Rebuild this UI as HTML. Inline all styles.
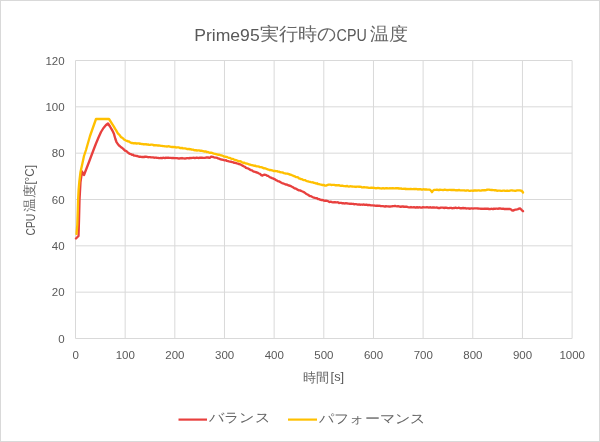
<!DOCTYPE html>
<html><head><meta charset="utf-8"><style>
html,body{margin:0;padding:0;background:#fff;}
#w{position:absolute;left:0;top:0;width:600px;height:442px;will-change:transform;}
svg{display:block;font-family:"Liberation Sans",sans-serif;}
</style></head><body><div id="w">
<svg width="600" height="442" viewBox="0 0 600 442">
<rect x="0.5" y="0.5" width="599" height="441" fill="#fff" stroke="#d9d9d9" stroke-width="1"/>
<g stroke="#d9d9d9" stroke-width="1" fill="none"><line x1="75.50" y1="60.5" x2="75.50" y2="338.5"/><line x1="125.16" y1="60.5" x2="125.16" y2="338.5"/><line x1="174.82" y1="60.5" x2="174.82" y2="338.5"/><line x1="224.48" y1="60.5" x2="224.48" y2="338.5"/><line x1="274.14" y1="60.5" x2="274.14" y2="338.5"/><line x1="323.80" y1="60.5" x2="323.80" y2="338.5"/><line x1="373.46" y1="60.5" x2="373.46" y2="338.5"/><line x1="423.12" y1="60.5" x2="423.12" y2="338.5"/><line x1="472.78" y1="60.5" x2="472.78" y2="338.5"/><line x1="522.44" y1="60.5" x2="522.44" y2="338.5"/><line x1="572.10" y1="60.5" x2="572.10" y2="338.5"/><line x1="75.5" y1="60.50" x2="572.1" y2="60.50"/><line x1="75.5" y1="106.83" x2="572.1" y2="106.83"/><line x1="75.5" y1="153.17" x2="572.1" y2="153.17"/><line x1="75.5" y1="199.50" x2="572.1" y2="199.50"/><line x1="75.5" y1="245.83" x2="572.1" y2="245.83"/><line x1="75.5" y1="292.17" x2="572.1" y2="292.17"/><line x1="75.5" y1="338.50" x2="572.1" y2="338.50"/></g>
<g fill="#595959" font-size="11.5px"><text x="64.6" y="64.60" text-anchor="end">120</text><text x="64.6" y="110.93" text-anchor="end">100</text><text x="64.6" y="157.27" text-anchor="end">80</text><text x="64.6" y="203.60" text-anchor="end">60</text><text x="64.6" y="249.93" text-anchor="end">40</text><text x="64.6" y="296.27" text-anchor="end">20</text><text x="64.6" y="342.60" text-anchor="end">0</text><text x="75.60" y="358.8" text-anchor="middle">0</text><text x="125.26" y="358.8" text-anchor="middle">100</text><text x="174.92" y="358.8" text-anchor="middle">200</text><text x="224.58" y="358.8" text-anchor="middle">300</text><text x="274.24" y="358.8" text-anchor="middle">400</text><text x="323.90" y="358.8" text-anchor="middle">500</text><text x="373.56" y="358.8" text-anchor="middle">600</text><text x="423.22" y="358.8" text-anchor="middle">700</text><text x="472.88" y="358.8" text-anchor="middle">800</text><text x="522.54" y="358.8" text-anchor="middle">900</text><text x="572.20" y="358.8" text-anchor="middle">1000</text></g>
<g fill="#595959"><text x="194.2" y="40.8" font-size="16.8px" textLength="65.5" lengthAdjust="spacingAndGlyphs">Prime95</text><text x="259.8" y="40.3" font-size="17.5px" textLength="76.5" lengthAdjust="spacingAndGlyphs" fill="#666666">実行時の</text><text x="336.6" y="40.8" font-size="16.8px" textLength="30.2" lengthAdjust="spacingAndGlyphs">CPU</text><text x="369.5" y="40.3" font-size="17.5px" textLength="38" lengthAdjust="spacingAndGlyphs" fill="#666666">温度</text></g>
<g fill="#595959"><text x="303.3" y="382.4" font-size="13px" textLength="26.2" lengthAdjust="spacingAndGlyphs" fill="#666666">時間</text><text x="330.6" y="381.2" font-size="13px" textLength="13.6" lengthAdjust="spacingAndGlyphs">[s]</text></g>
<g fill="#595959" transform="translate(34.5,235.5) rotate(-90)"><text x="0" y="0" font-size="12px" textLength="21.8" lengthAdjust="spacingAndGlyphs">CPU</text><text x="23.4" y="-0.5" font-size="13px" textLength="27.5" lengthAdjust="spacingAndGlyphs" fill="#666666">温度</text><text x="50.9" y="-0.3" font-size="12.5px" textLength="19.5" lengthAdjust="spacingAndGlyphs">[°C]</text></g>
<polyline points="76.00,238.50 78.50,236.00 79.00,220.00 79.50,200.00 80.50,182.00 82.00,171.50 84.00,175.00 89.00,162.00 93.50,150.00 96.00,143.50 98.50,137.50 101.00,132.00 103.50,128.00 106.00,125.00 108.00,123.50 110.00,126.50 112.00,129.90 113.00,131.80 114.00,134.08 115.30,138.76 116.50,142.02 117.25,143.17 118.00,144.25 119.00,145.50 120.00,146.24 121.00,147.26 122.00,147.86 123.00,148.67 124.00,149.66 125.00,150.68 126.00,150.95 127.00,151.67 128.00,152.55 129.00,153.39 130.00,153.84 131.00,154.14 132.00,154.87 133.00,154.75 134.00,155.60 135.00,155.68 136.00,155.80 137.00,155.99 138.00,156.29 139.00,156.78 140.00,156.62 141.00,156.89 142.00,156.96 143.00,156.85 144.00,156.99 145.00,156.76 146.00,156.79 147.00,156.92 148.00,157.22 149.00,157.12 150.00,157.10 151.00,157.33 152.00,157.33 153.00,157.33 154.00,157.68 155.00,157.71 156.00,157.54 157.00,157.80 158.00,157.85 159.00,158.13 160.00,158.13 161.00,157.86 162.00,158.23 163.00,157.73 164.00,157.87 165.00,158.04 166.00,157.69 167.00,157.85 168.00,157.58 169.00,157.91 170.00,157.95 171.00,157.89 172.00,158.11 173.00,157.85 174.00,158.11 175.00,158.10 176.00,158.14 177.00,158.13 178.00,158.39 179.00,158.50 180.00,158.29 181.00,158.38 182.00,158.03 183.00,158.38 184.00,158.34 185.00,158.53 186.00,158.42 187.00,158.11 188.00,158.16 189.00,158.30 190.00,157.93 191.00,158.14 192.00,157.93 193.00,157.87 194.00,157.79 195.00,158.15 196.00,157.75 197.00,157.78 198.00,157.82 199.00,158.05 200.00,157.57 201.00,157.74 202.00,157.77 203.00,157.92 204.00,157.86 205.00,157.85 206.00,157.50 207.00,157.54 208.00,157.48 209.00,157.75 210.00,157.76 210.75,156.95 211.50,156.62 212.38,156.82 213.25,157.00 214.12,157.32 215.00,157.55 216.00,157.67 217.00,157.82 218.00,158.35 219.00,158.63 220.00,159.04 221.00,159.50 222.00,159.61 223.00,159.76 224.00,160.07 225.00,160.35 226.00,160.25 227.00,160.97 228.00,161.16 229.00,161.46 230.00,161.67 231.00,161.74 232.00,162.04 233.00,162.18 234.00,162.78 235.00,162.75 236.00,163.06 237.00,163.44 238.00,163.71 239.00,164.11 240.00,164.25 241.00,164.74 242.00,165.34 243.00,165.84 244.00,166.50 245.00,166.83 246.00,167.83 247.00,168.20 248.00,168.46 249.00,169.04 250.00,169.61 251.00,170.05 252.00,170.35 253.00,171.19 254.00,171.70 255.00,171.83 256.00,172.27 257.00,172.48 258.00,172.92 259.00,173.48 260.00,173.87 261.25,175.08 262.50,175.61 263.50,174.88 264.50,174.75 265.42,174.93 266.33,175.14 267.25,175.77 268.17,175.90 269.08,176.60 270.00,177.27 271.00,177.70 272.00,178.11 273.00,178.37 274.00,178.93 275.00,179.31 276.00,180.15 277.00,180.52 278.00,181.16 279.00,181.40 280.00,181.84 281.00,182.57 282.00,183.07 283.00,183.40 284.00,183.77 285.00,184.18 286.00,184.53 287.00,184.65 288.00,185.21 289.00,185.52 290.00,185.74 291.00,186.19 292.00,186.78 293.00,187.22 294.00,187.91 295.00,188.51 296.00,188.67 297.00,189.39 298.00,189.87 299.00,190.30 300.00,190.42 301.00,190.80 302.00,191.27 303.00,191.71 304.00,192.17 305.00,192.87 306.00,193.66 307.00,194.27 308.00,194.71 309.00,195.45 310.00,196.17 311.00,196.12 312.00,196.79 313.00,197.28 314.00,197.56 315.00,197.89 316.00,198.09 317.00,198.27 318.00,198.96 319.00,199.06 320.00,199.67 321.00,199.99 322.00,199.90 323.00,200.13 324.00,200.67 325.00,200.78 326.00,200.70 327.00,200.90 328.00,201.14 329.00,201.80 330.00,201.97 331.00,201.70 332.00,202.18 333.00,202.37 334.00,202.29 335.00,202.22 336.00,202.43 337.00,202.29 338.00,202.33 339.00,202.96 340.00,202.88 341.00,202.91 342.00,203.24 343.00,203.06 344.00,203.41 345.00,203.48 346.00,203.24 347.00,203.36 348.00,203.48 349.00,203.55 350.00,203.85 351.00,203.74 352.00,203.89 353.00,203.80 354.00,204.31 355.00,204.07 356.00,204.20 357.00,204.34 358.00,204.59 359.00,204.39 360.00,204.73 361.00,204.57 362.00,204.66 363.00,204.72 364.00,204.51 365.00,204.82 366.00,204.74 367.00,204.71 368.00,205.23 369.00,204.95 370.00,205.19 371.00,205.41 372.00,205.39 373.00,205.34 374.00,205.53 375.00,205.63 376.00,205.84 377.00,205.54 378.00,205.87 379.00,205.78 380.00,205.88 381.00,206.20 382.00,206.10 383.00,206.18 384.00,206.35 385.00,206.48 386.00,206.27 387.00,206.41 388.00,206.40 389.00,206.46 390.00,206.61 391.00,206.33 392.00,206.24 393.00,206.07 394.00,206.19 395.00,205.91 396.00,206.15 397.00,206.33 398.00,206.09 399.00,206.39 400.00,206.75 401.00,206.76 402.00,206.44 403.00,206.50 404.00,206.75 405.00,206.61 406.00,206.77 407.00,206.75 408.00,207.15 409.00,207.29 410.00,207.42 411.00,207.02 412.00,207.35 413.00,207.33 414.00,207.06 415.00,207.49 416.00,207.55 417.00,207.15 418.00,207.57 419.00,207.28 420.00,207.34 421.00,207.64 422.00,207.57 423.00,207.21 424.00,207.37 425.00,207.43 426.00,207.35 427.00,207.28 428.00,207.37 429.00,207.61 430.00,207.23 431.00,207.56 432.00,207.52 433.00,207.31 434.00,207.51 435.00,207.69 436.00,207.66 437.00,207.43 438.00,207.97 439.00,207.89 440.00,208.01 441.00,207.55 442.00,207.67 443.00,207.57 444.00,208.01 445.00,207.75 446.00,207.69 447.00,207.88 448.00,208.18 449.00,208.15 450.00,207.86 451.00,207.80 452.00,208.23 453.00,208.04 454.00,208.11 455.00,207.77 456.00,207.75 457.00,208.11 458.00,207.96 459.00,207.76 460.00,208.25 461.00,208.13 462.00,208.27 463.00,207.92 464.00,208.40 465.00,208.01 466.00,208.50 467.00,208.32 468.00,208.31 469.00,208.48 470.00,208.74 471.00,208.39 472.00,208.33 473.00,208.58 474.00,208.43 475.00,208.38 476.00,208.43 477.00,208.39 478.00,208.49 479.00,208.57 480.00,208.59 481.00,208.88 482.00,208.64 483.00,208.79 484.00,208.64 485.00,208.76 486.00,208.61 487.00,208.77 488.00,208.67 489.00,209.10 490.00,209.03 491.00,208.78 492.00,208.89 493.00,209.09 494.00,208.58 495.00,208.93 496.00,208.66 497.00,208.65 498.00,208.79 499.00,208.49 500.00,208.50 501.00,208.68 502.00,208.91 503.00,208.62 504.00,208.97 505.00,208.97 506.00,209.00 507.00,208.94 508.00,208.97 509.00,208.88 510.00,208.99 511.00,209.49 512.00,210.40 513.00,210.66 514.00,210.18 515.00,209.70 516.00,209.69 517.00,209.46 518.00,209.10 519.00,208.63 520.00,208.36 521.00,209.28 522.00,210.28 523.00,211.20" fill="none" stroke="#E8403E" stroke-width="2.35" stroke-linejoin="round" stroke-linecap="round"/>
<polyline points="76.50,234.00 77.30,225.00 77.80,210.00 78.10,200.00 78.60,190.00 79.30,182.00 80.50,172.00 82.50,163.00 84.00,156.00 86.00,150.00 90.00,136.00 96.00,119.00 109.00,119.00 114.00,126.85 115.00,128.65 116.00,130.18 117.00,131.93 118.00,133.57 119.00,134.42 120.00,135.56 121.00,137.19 122.00,137.62 123.00,138.35 124.00,139.53 125.00,139.98 126.00,140.62 127.00,140.84 128.00,141.36 129.00,141.52 130.00,142.22 131.00,142.78 132.00,143.01 133.00,143.22 134.00,143.27 135.00,143.02 136.00,143.49 137.00,143.49 138.00,143.41 139.00,143.35 140.00,143.90 141.00,143.78 142.00,144.02 143.00,144.21 144.00,144.22 145.00,144.44 146.00,144.24 147.00,144.57 148.00,144.47 149.00,144.84 150.00,144.91 151.00,144.57 152.00,144.70 153.00,144.84 154.00,145.36 155.00,145.16 156.00,145.37 157.00,145.29 158.00,145.50 159.00,145.54 160.00,145.62 161.00,145.83 162.00,145.91 163.00,146.17 164.00,146.12 165.00,146.34 166.00,146.38 167.00,146.53 168.00,146.44 169.00,146.23 170.00,146.70 171.00,146.89 172.00,146.99 173.00,146.93 174.00,147.14 175.00,146.99 176.00,147.47 177.00,147.45 178.00,147.42 179.00,147.43 180.00,148.00 181.00,148.22 182.00,147.87 183.00,148.42 184.00,148.35 185.00,148.35 186.00,148.58 187.00,149.00 188.00,149.21 189.00,148.89 190.00,149.36 191.00,149.19 192.00,149.70 193.00,149.63 194.00,150.07 195.00,150.27 196.00,150.14 197.00,150.56 198.00,150.31 199.00,150.32 200.00,150.76 201.00,150.62 202.00,150.89 203.00,151.19 204.00,151.48 205.00,151.41 206.00,151.52 207.00,152.17 208.00,152.04 209.00,152.58 210.00,152.72 211.00,152.68 212.00,152.98 213.00,153.26 214.00,153.58 215.00,153.80 216.00,154.03 217.00,154.32 218.00,154.75 219.00,154.75 220.00,154.96 221.00,155.44 222.00,155.49 223.00,155.85 224.00,156.55 225.00,156.61 226.00,156.95 227.00,156.97 228.00,157.51 229.00,157.92 230.00,157.93 231.00,158.59 232.00,158.93 233.00,158.94 234.00,159.59 235.00,159.83 236.00,160.28 237.00,160.43 238.00,160.96 239.00,161.30 240.00,161.23 241.00,161.57 242.00,162.24 243.00,162.72 244.00,162.64 245.00,163.08 246.00,163.47 247.00,163.64 248.00,163.98 249.00,164.28 250.00,164.63 251.00,164.98 252.00,165.05 253.00,165.32 254.00,165.77 255.00,165.59 256.00,166.12 257.00,166.44 258.00,166.43 259.00,166.61 260.00,167.17 261.00,167.15 262.00,167.42 263.00,167.86 264.00,168.31 265.00,168.28 266.00,168.70 267.00,169.01 268.00,169.59 269.00,169.67 270.00,170.20 271.00,170.01 272.00,170.31 273.00,170.68 274.00,171.02 275.00,170.97 276.00,171.05 277.00,171.19 278.00,171.62 279.00,171.63 280.00,172.17 281.00,172.44 282.00,172.32 283.00,172.63 284.00,173.17 285.00,173.33 286.00,173.67 287.00,173.66 288.00,173.79 289.00,174.13 290.00,174.66 291.00,174.77 292.00,175.21 293.00,175.65 294.00,176.06 295.00,176.45 296.00,177.14 297.00,177.11 298.00,177.42 299.00,178.35 300.00,178.71 301.00,179.12 302.00,179.16 303.00,179.80 304.00,180.14 305.00,180.09 306.00,180.74 307.00,181.14 308.00,181.39 309.00,181.66 310.00,181.88 311.00,182.13 312.00,182.29 313.00,182.42 314.00,182.93 315.00,182.98 316.00,183.49 317.00,183.29 318.00,183.99 319.00,184.09 320.00,184.44 321.00,184.69 322.00,184.96 323.00,185.04 324.00,184.99 325.00,185.67 326.00,185.62 327.25,185.04 328.50,184.59 329.46,184.60 330.42,184.62 331.38,185.00 332.33,184.90 333.29,184.83 334.25,184.86 335.21,185.29 336.17,185.15 337.12,185.41 338.08,185.25 339.04,185.25 340.00,185.52 341.00,185.78 342.00,185.52 343.00,185.96 344.00,186.14 345.00,186.17 346.00,186.28 347.00,185.92 348.00,186.37 349.00,186.60 350.00,186.25 351.00,186.42 352.00,186.47 353.00,186.67 354.00,186.66 355.00,186.73 356.00,186.95 357.00,186.57 358.00,186.65 359.00,186.74 360.00,186.79 361.00,186.84 362.00,187.43 363.00,187.44 364.00,187.09 365.00,187.40 366.00,187.38 367.00,187.46 368.00,187.56 369.00,187.80 370.00,187.85 371.00,187.77 372.00,187.73 373.00,187.85 374.00,187.79 375.00,188.08 376.00,188.22 377.00,188.08 378.00,187.96 379.00,188.07 380.00,188.23 381.00,188.36 382.00,188.46 383.00,188.23 384.00,188.47 385.00,188.37 386.00,188.26 387.00,188.23 388.00,188.30 389.00,188.41 390.00,188.26 391.00,188.41 392.00,188.28 393.00,188.16 394.00,188.32 395.00,188.41 396.00,188.06 397.00,188.26 398.00,188.26 399.00,188.51 400.00,188.54 401.00,188.37 402.00,188.80 403.00,188.88 404.00,188.73 405.00,188.98 406.00,188.75 407.00,189.10 408.00,188.97 409.00,189.06 410.00,188.96 411.00,188.96 412.00,189.07 413.00,189.05 414.00,188.86 415.00,189.20 416.00,188.94 417.00,189.09 418.00,189.51 419.00,189.17 420.00,189.27 421.00,189.28 422.00,189.71 423.00,189.32 424.00,189.23 425.00,189.69 426.00,189.29 427.00,189.69 428.00,189.60 429.00,189.69 430.00,189.75 431.00,190.79 432.00,192.17 433.00,190.64 434.00,189.95 435.00,189.82 436.00,189.95 437.00,189.62 438.00,189.99 439.00,190.11 440.00,189.63 441.00,189.79 442.00,189.94 443.00,190.10 444.00,189.78 445.00,189.76 446.00,189.81 447.00,190.03 448.00,190.12 449.00,189.93 450.00,189.93 451.00,189.96 452.00,189.96 453.00,190.01 454.00,189.85 455.00,190.10 456.00,190.38 457.00,190.09 458.00,190.30 459.00,189.99 460.00,190.31 461.00,190.39 462.00,190.40 463.00,190.36 464.00,190.39 465.00,190.53 466.00,190.72 467.00,190.35 468.00,190.37 469.00,190.79 470.00,190.93 471.00,190.69 472.00,190.63 473.00,190.76 474.00,190.44 475.00,190.47 476.00,190.41 477.00,190.61 478.00,190.44 479.00,190.37 480.00,190.61 481.00,190.67 482.00,190.21 483.00,190.35 484.00,190.10 485.00,190.26 486.00,190.02 487.00,189.76 488.00,189.64 489.00,189.61 490.00,189.94 491.00,189.96 492.00,189.92 493.00,190.10 494.00,190.15 495.00,190.48 496.00,190.20 497.00,190.75 498.00,190.54 499.00,190.68 500.00,190.68 501.00,190.88 502.00,190.86 503.00,190.70 504.00,190.65 505.00,190.77 506.00,190.84 507.00,190.57 508.00,190.75 509.00,190.87 510.00,190.58 511.00,190.44 512.00,190.43 513.00,190.69 514.00,190.66 515.00,190.81 516.00,190.74 517.00,190.39 518.00,190.35 519.00,190.37 520.00,190.32 521.00,190.76 522.00,191.00 523.00,192.50" fill="none" stroke="#FFC000" stroke-width="2.35" stroke-linejoin="round" stroke-linecap="round"/>
<line x1="178.5" y1="419.6" x2="207" y2="419.6" stroke="#E8403E" stroke-width="2.2"/>
<line x1="288" y1="419.6" x2="317" y2="419.6" stroke="#FFC000" stroke-width="2.2"/>
<g fill="#595959"><text x="209.2" y="422.2" font-size="13px" textLength="60.5" lengthAdjust="spacingAndGlyphs" fill="#666666">バランス</text><text x="319.3" y="422.8" font-size="13px" textLength="105.5" lengthAdjust="spacingAndGlyphs" fill="#666666">パフォーマンス</text></g>
</svg></div>
</body></html>
